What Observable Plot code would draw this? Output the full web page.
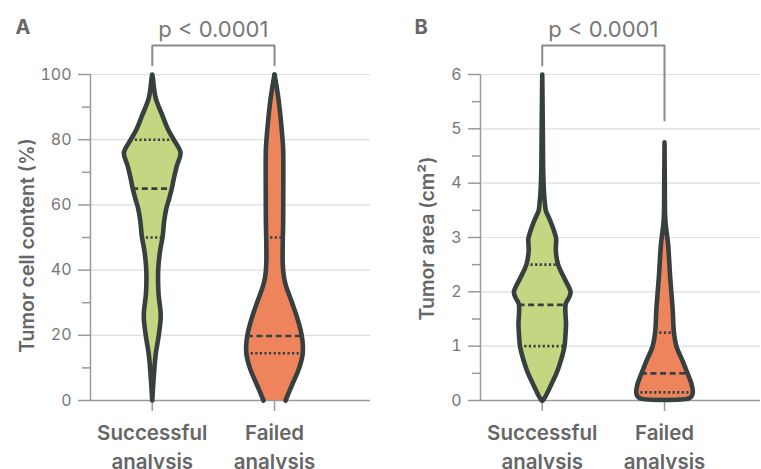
<!DOCTYPE html>
<html><head><meta charset="utf-8">
<script src="https://cdn.jsdelivr.net/npm/d3@7"></script>
<script src="https://cdn.jsdelivr.net/npm/@observablehq/plot@0.6"></script>
<style>
body{margin:0;background:#fff;}
#row{display:flex;width:761px;height:469px;overflow:hidden;}
#row svg{display:block;overflow:visible;}
</style></head><body><div id="row"></div>
<script>
// ---- categories & labels ----
const categories = ["Successful\nanalysis", "Failed\nanalysis"];
const groupPositions = [1, 2];
const pLabel = "p < 0.0001";

// ---- Panel A: tumor cell content (%) : [value, relative density] ----
const cellSuccess = [[100,0],[98.5,0.03],[96.6,0.05],[92.5,0.13],[87.4,0.36],[83.3,0.55],[80,0.76],[76,1.0],[72,0.87],[68,0.76],[65,0.69],[62,0.6],[59,0.5],[55,0.42],[50.5,0.37],[45.5,0.27],[40,0.21],[33,0.22],[26,0.3],[20,0.23],[14,0.12],[8,0.06],[0,0]];
const cellFailed = [[100,0],[97,0.06],[92.5,0.14],[85.4,0.23],[78,0.3],[75,0.31],[65,0.31],[55,0.305],[48,0.29],[42,0.29],[38,0.33],[35.3,0.4],[30.2,0.61],[25.1,0.81],[20,0.96],[16.9,1.0],[14,0.99],[9.7,0.86],[4.6,0.61],[0,0.39]];
const cellSuccessMedian = [65, 0.69];
const cellSuccessQuartiles = [[80, 0.76], [50, 0.37]];
const cellFailedMedian = [19.8, 0.96];
const cellFailedQuartiles = [[50, 0.3], [14.5, 0.99]];
const cellTicks = [0, 20, 40, 60, 80, 100];
const cellMinorTicks = [10, 30, 50, 70, 90];

// ---- Panel B: tumor area (cm²) ----
const areaSuccess = [[6,0],[5,0.02],[4.2,0.035],[3.8,0.065],[3.6,0.1],[3.5,0.125],[3.31,0.28],[3.13,0.41],[2.98,0.49],[2.75,0.48],[2.5,0.56],[2.24,0.79],[2.0,1.0],[1.9,0.95],[1.78,0.83],[1.6,0.82],[1.41,0.84],[1.2,0.82],[0.98,0.78],[0.64,0.6],[0.5,0.5],[0.34,0.36],[0,0.02]];
const areaFailed = [[4.75,0],[4.0,0.01],[3.31,0.03],[2.88,0.125],[2.27,0.2],[1.66,0.29],[1.26,0.33],[0.98,0.43],[0.74,0.63],[0.49,0.82],[0.31,0.95],[0.15,1.0],[0.08,0.96],[0.04,0.86]];
const areaSuccessMedian = [1.76, 0.82];
const areaSuccessQuartiles = [[2.5, 0.56], [1.0, 0.78]];
const areaFailedMedian = [0.5, 0.82];
const areaFailedQuartiles = [[1.25, 0.33], [0.15, 1.0]];
const areaTicks = [0, 1, 2, 3, 4, 5, 6];
const areaMinorTicks = [0.5, 1.5, 2.5, 3.5, 4.5, 5.5];

// bracket annotations (data units)
const bracketA = [[1, 102.8], [1, 108.9], [2, 108.9], [2, 102.8]];
const bracketB = [[1, 6.166], [1, 6.534], [2, 6.534], [2, 5.154]];

const HW = 0.2315;          // max half-width of a violin in x units
const OUTLINE = "#37403f";
const GREEN = "#c3d782";
const ORANGE = "#ee845c";
const AXIS = "#9a9a9a";

function violin(profile, pos, fill, median, quartiles, openBottom) {
  const areaData = profile.map(([v, d]) => ({v, x1: pos - d * HW, x2: pos + d * HW}));
  const left = profile.map(([v, d]) => ({v, x: pos - d * HW, z: "L"}));
  const right = profile.slice().reverse().map(([v, d]) => ({v, x: pos + d * HW, z: openBottom ? "R" : "L"}));
  return [
    Plot.areaX(areaData, {y: "v", x1: "x1", x2: "x2", fill, curve: "catmull-rom"}),
    Plot.ruleY(quartiles, {y: d => d[0], x1: d => pos - d[1] * HW, x2: d => pos + d[1] * HW, stroke: OUTLINE, strokeWidth: 2.6, strokeDasharray: "2.2,2.4"}),
    Plot.ruleY([median], {y: d => d[0], x1: d => pos - d[1] * HW, x2: d => pos + d[1] * HW, stroke: OUTLINE, strokeWidth: 2.6, strokeDasharray: "6,3.6"}),
    Plot.line(left.concat(right), {x: "x", y: "v", z: "z", stroke: OUTLINE, strokeWidth: 4.6, strokeLinejoin: "round", strokeLinecap: "round", curve: "catmull-rom"})
  ];
}

function panel({width, marginLeft, marginRight, ymax, ticks, minor, title, titleX, titleDy, letter, letterX, bracket, violins}) {
  const mt = 74, mb = 69;
  return Plot.plot({
    width, height: 469, marginLeft, marginRight, marginTop: mt, marginBottom: mb,
    x: {type: "linear", domain: [0.495, 2.785], axis: null},
    y: {domain: [0, ymax], axis: null},
    style: {fontFamily: "Inter, 'Open Sans', sans-serif", fontSize: "16px", color: "#777", background: "white", overflow: "visible"},
    marks: [
      Plot.gridY(ticks, {stroke: "#dedede", strokeOpacity: 1, strokeWidth: 1.2}),
      Plot.axisY(ticks, {tickSize: 12, tickPadding: 7, stroke: AXIS, strokeWidth: 1.5, fill: "#777", label: null, fontSize: 16, tickFormat: d => String(d)}),
      Plot.axisY(minor, {tickSize: 8, tickFormat: () => "", stroke: AXIS, strokeWidth: 1.5, label: null}),
      Plot.ruleX([0.495], {y1: 0, y2: ymax, stroke: AXIS, strokeWidth: 1.5}),
      Plot.ruleY([0], {stroke: AXIS, strokeWidth: 1.5}),
      Plot.axisX(groupPositions, {tickSize: 11, tickFormat: () => "", stroke: AXIS, strokeWidth: 1.5, label: null}),
      ...violins,
      Plot.text(categories, {x: (d, i) => groupPositions[i], frameAnchor: "bottom", dy: 19.5, lineAnchor: "top", lineHeight: 1.4, fontSize: 20.5, fontWeight: 600, fill: "#666"}),
      Plot.text([title], {frameAnchor: "left", dx: titleX - marginLeft, dy: titleDy, rotate: -90, textAnchor: "middle", lineAnchor: "bottom", fontSize: 19.5, fontWeight: 600, fill: "#666"}),
      Plot.text([letter], {frameAnchor: "top-left", dx: letterX - marginLeft, dy: 33.5 - mt, textAnchor: "start", lineAnchor: "bottom", fontSize: 20, fontWeight: 700, fill: "#666"}),
      Plot.text([pLabel], {x: 1.5, frameAnchor: "top", dy: 36 - mt, lineAnchor: "bottom", fontSize: 22, fill: "#777"}),
      Plot.line(bracket, {stroke: "#8a8a8a", strokeWidth: 2})
    ]
  });
}

const row = document.getElementById("row");
row.append(panel({
  width: 380, marginLeft: 90, marginRight: 10, ymax: 100, ticks: cellTicks, minor: cellMinorTicks,
  title: "Tumor cell content (%)", titleX: 33, titleDy: 8, letter: "A", letterX: 15, bracket: bracketA,
  violins: [
    ...violin(cellSuccess, 1, GREEN, cellSuccessMedian, cellSuccessQuartiles, false),
    ...violin(cellFailed, 2, ORANGE, cellFailedMedian, cellFailedQuartiles, true)
  ]
}));
row.append(panel({
  width: 381, marginLeft: 100, marginRight: 1, ymax: 6, ticks: areaTicks, minor: areaMinorTicks,
  title: "Tumor area (cm²)", titleX: 53, titleDy: 1, letter: "B", letterX: 34, bracket: bracketB,
  violins: [
    ...violin(areaSuccess, 1, GREEN, areaSuccessMedian, areaSuccessQuartiles, false),
    ...violin(areaFailed, 2, ORANGE, areaFailedMedian, areaFailedQuartiles, false)
  ]
}));
</script></body></html>
